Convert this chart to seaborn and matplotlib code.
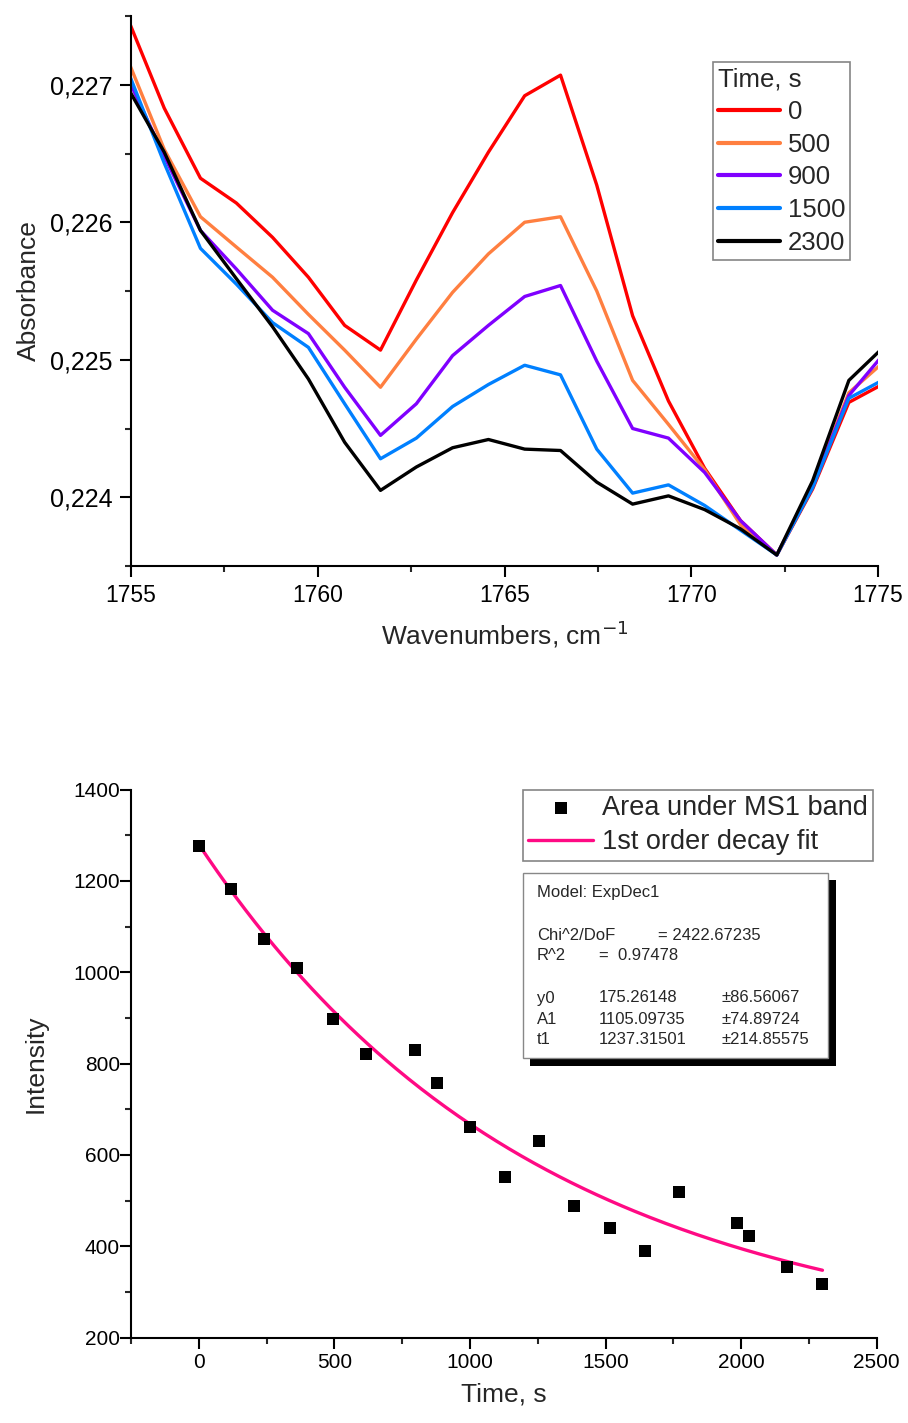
import matplotlib
matplotlib.use("Agg")
import matplotlib.pyplot as plt
import matplotlib.ticker as mticker
from matplotlib.lines import Line2D
from matplotlib.patches import Rectangle
import numpy as np
import pandas as pd
import seaborn as sns

sns.set_theme(style="ticks")
plt.rcParams["font.family"] = ["Liberation Sans", "DejaVu Sans"]

# --- top panel: IR spectra at several times ---
WAVENUMBERS = [1754.93, 1755.89, 1756.86, 1757.82, 1758.79, 1759.75, 1760.72,
               1761.68, 1762.64, 1763.61, 1764.57, 1765.54, 1766.50, 1767.47,
               1768.43, 1769.39, 1770.36, 1771.32, 1772.29, 1773.25, 1774.22,
               1775.18]
ABS_0 = [0.22747, 0.22683, 0.22632, 0.22614, 0.22589, 0.22560, 0.22525, 0.22507,
         0.22558, 0.22607, 0.22651, 0.22692, 0.22707, 0.22627, 0.22532, 0.22470,
         0.22421, 0.22383, 0.22358, 0.22406, 0.22469, 0.22483]
ABS_500 = [0.22717, 0.22653, 0.22604, 0.22582, 0.22560, 0.22533, 0.22507, 0.22480,
           0.22515, 0.22549, 0.22577, 0.22600, 0.22604, 0.22550, 0.22485, 0.22453,
           0.22420, 0.22380, 0.22358, 0.22409, 0.22476, 0.22499]
ABS_900 = [0.22704, 0.22648, 0.22594, 0.22566, 0.22536, 0.22519, 0.22480, 0.22445,
           0.22468, 0.22503, 0.22525, 0.22546, 0.22554, 0.22499, 0.22450, 0.22443,
           0.22418, 0.22383, 0.22358, 0.22408, 0.22474, 0.22505]
ABS_1500 = [0.22709, 0.22643, 0.22581, 0.22555, 0.22527, 0.22509, 0.22468, 0.22428,
            0.22443, 0.22466, 0.22482, 0.22496, 0.22489, 0.22435, 0.22403, 0.22409,
            0.22394, 0.22376, 0.22358, 0.22407, 0.22472, 0.22486]
ABS_2300 = [0.22697, 0.22651, 0.22594, 0.22559, 0.22524, 0.22486, 0.22440, 0.22405,
            0.22422, 0.22436, 0.22442, 0.22435, 0.22434, 0.22411, 0.22395, 0.22401,
            0.22391, 0.22377, 0.22358, 0.22412, 0.22485, 0.22510]
TIME_LABELS = ["0", "500", "900", "1500", "2300"]
TIME_COLORS = ["#ff0000", "#ff7f40", "#8000ff", "#0080ff", "#000000"]

# --- bottom panel: band area vs time ---
TIME_S = [0, 118, 241, 361, 494, 617, 797, 877, 1000, 1129, 1256, 1385, 1516,
          1646, 1771, 1984, 2028, 2170, 2299]
AREA = [1276, 1182, 1072, 1009, 898, 821, 830, 758, 662, 552, 630, 489, 441,
        390, 519, 450, 423, 354, 317]
FIT_Y0, FIT_A1, FIT_T1 = 175.26148, 1105.09735, 1237.31501

W, H = 908, 1423


def fx(px):
    return px / W


def fy(py):
    return 1 - py / H


def style_axes(ax, label_size, pad):
    sns.despine(ax=ax)
    for side in ("left", "bottom"):
        ax.spines[side].set_linewidth(1.5)
        ax.spines[side].set_color("black")
    ax.tick_params(which="major", direction="out", length=8, width=1.5,
                   labelsize=label_size, colors="black", pad=pad)
    ax.tick_params(which="minor", direction="out", length=4.5, width=1.5)


fig = plt.figure(figsize=(W / 100, H / 100), dpi=100)

# top panel
ax1 = fig.add_axes([fx(131), fy(566), fx(747), 550 / H])
spectra = pd.DataFrame({
    "wavenumber": WAVENUMBERS * 5,
    "absorbance": ABS_0 + ABS_500 + ABS_900 + ABS_1500 + ABS_2300,
    "time": np.repeat(TIME_LABELS, len(WAVENUMBERS)),
})
sns.lineplot(data=spectra, x="wavenumber", y="absorbance", hue="time",
             hue_order=TIME_LABELS, palette=dict(zip(TIME_LABELS, TIME_COLORS)),
             sort=False, linewidth=2.4, ax=ax1, legend=False)
ax1.set_xlim(1755, 1775)
ax1.set_ylim(0.2235, 0.2275)
ax1.xaxis.set_major_locator(mticker.MultipleLocator(5))
ax1.xaxis.set_minor_locator(mticker.MultipleLocator(2.5))
ax1.yaxis.set_major_locator(mticker.MultipleLocator(0.001))
ax1.yaxis.set_minor_locator(mticker.MultipleLocator(0.0005))
ax1.yaxis.set_major_formatter(
    mticker.FuncFormatter(lambda v, _: f"{v:.3f}".replace(".", ",")))
style_axes(ax1, 16.5, 5)
ax1.tick_params(axis="y", labelsize=18)
ax1.set_xlabel("Wavenumbers, cm$^{-1}$", fontsize=19, labelpad=8)
ax1.set_ylabel("Absorbance", fontsize=19, labelpad=7)

handles = [Line2D([], [], color=c, lw=3) for c in TIME_COLORS]
leg1 = ax1.legend(handles, TIME_LABELS, title="Time, s", loc="upper left",
                  bbox_to_anchor=((713 - 131) / 747, (566 - 62) / 550),
                  fontsize=18.5, title_fontsize=18.5, frameon=True, fancybox=False,
                  handlelength=2.4, handletextpad=0.3, labelspacing=0.34,
                  borderpad=0.2, borderaxespad=0)
leg1._legend_box.align = "left"
leg1.get_frame().set_edgecolor("#666666")
leg1.get_frame().set_linewidth(1.2)

# bottom panel
ax2 = fig.add_axes([fx(130.9), fy(1337.6), fx(745.8), 548 / H])
t_fit = np.linspace(0, 2300, 200)
fit = pd.DataFrame({"t": t_fit, "y": FIT_Y0 + FIT_A1 * np.exp(-t_fit / FIT_T1)})
points = pd.DataFrame({"t": TIME_S, "area": AREA})
sns.lineplot(data=fit, x="t", y="y", color="#ff0a84", linewidth=2.4, ax=ax2,
             label="1st order decay fit")
sns.scatterplot(data=points, x="t", y="area", marker="s", color="black", s=80,
                linewidth=0, ax=ax2, label="Area under MS1 band", zorder=3)
ax2.set_xlim(-250, 2500)
ax2.set_ylim(200, 1400)
ax2.xaxis.set_major_locator(mticker.MultipleLocator(500))
ax2.xaxis.set_minor_locator(mticker.MultipleLocator(250))
ax2.yaxis.set_major_locator(mticker.MultipleLocator(200))
ax2.yaxis.set_minor_locator(mticker.MultipleLocator(100))
style_axes(ax2, 15, 3)
ax2.tick_params(axis="y", pad=0)
ax2.set_xlabel("Time, s", fontsize=19, labelpad=8)
ax2.set_ylabel("Intensity", fontsize=19, labelpad=18)

h, l = ax2.get_legend_handles_labels()
order = [l.index("Area under MS1 band"), l.index("1st order decay fit")]
leg2 = ax2.legend([h[i] for i in order], [l[i] for i in order], loc="upper left",
                  bbox_to_anchor=((523 - 130.9) / 745.8, 1.0), fontsize=19.5,
                  frameon=True, fancybox=False, handlelength=2.4,
                  handletextpad=0.3, labelspacing=0.3, borderpad=0.2,
                  borderaxespad=0)
leg2.get_frame().set_edgecolor("#666666")
leg2.get_frame().set_linewidth(1.2)

# fit report box with drop shadow
fig.patches.append(Rectangle((fx(530), fy(1066)), fx(306), (1066 - 880) / H,
                             transform=fig.transFigure, facecolor="black",
                             edgecolor="none", zorder=5))
fig.patches.append(Rectangle((fx(522.7), fy(1058.3)), fx(305.6), (1058.3 - 873.3) / H,
                             transform=fig.transFigure, facecolor="white",
                             edgecolor="#888888", linewidth=1, zorder=6))
report = [
    (537, 893, "Model: ExpDec1"),
    (537, 935, "Chi^2/DoF"), (658, 935, "= 2422.67235"),
    (537, 955, "R^2"), (599, 955, "=  0.97478"),
    (537, 998, "y0"), (599, 998, "175.26148"), (721, 998, "\u00b186.56067"),
    (537, 1019, "A1"), (599, 1019, "1105.09735"), (721, 1019, "\u00b174.89724"),
    (537, 1040, "t1"), (599, 1040, "1237.31501"), (721, 1040, "\u00b1214.85575"),
]
for x, y, s in report:
    fig.text(fx(x), fy(y), s, fontsize=12, va="center", ha="left", zorder=7)

fig.savefig("out.png", dpi=100)
